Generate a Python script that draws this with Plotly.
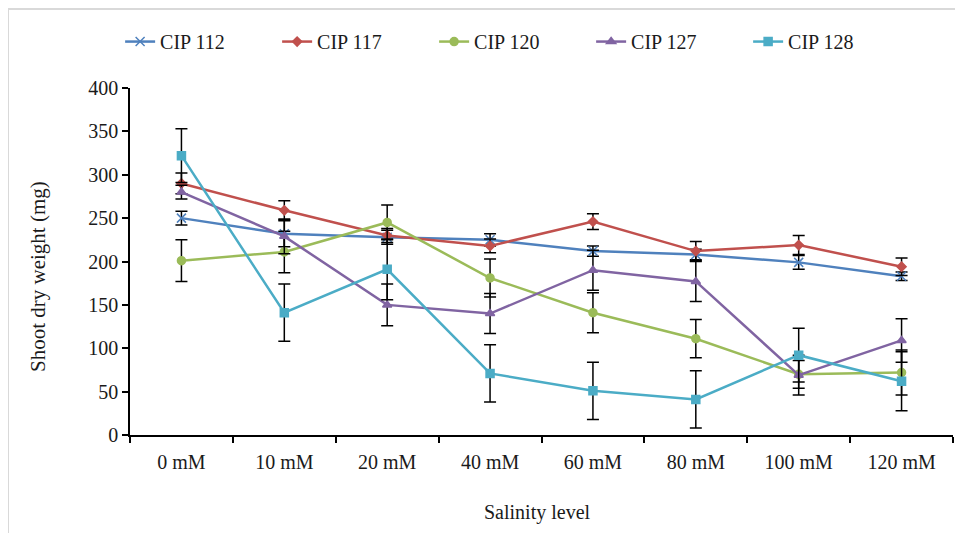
import plotly.graph_objects as go

categories = ["0 mM", "10 mM", "20 mM", "40 mM", "60 mM", "80 mM", "100 mM", "120 mM"]

cip112 = [250, 232, 228, 225, 212, 208, 199, 183]
cip112_err = [8, 15, 8, 7, 6, 6, 8, 5]
cip117 = [290, 259, 230, 218, 246, 212, 219, 194]
cip117_err = [12, 11, 8, 8, 9, 11, 11, 10]
cip120 = [201, 211, 245, 181, 141, 111, 70, 72]
cip120_err = [24, 24, 20, 22, 23, 22, 16, 26]
cip127 = [280, 229, 150, 140, 190, 177, 69, 109]
cip127_err = [8, 20, 24, 23, 23, 23, 23, 25]
cip128 = [322, 141, 191, 71, 51, 41, 92, 62]
cip128_err = [31, 33, 35, 33, 33, 33, 31, 34]

series = [
    ("CIP 112", cip112, cip112_err, "#4F81BD", "x-thin-open", 9),
    ("CIP 117", cip117, cip117_err, "#C0504D", "diamond", 7),
    ("CIP 120", cip120, cip120_err, "#9BBB59", "circle", 8),
    ("CIP 127", cip127, cip127_err, "#8064A2", "triangle-up", 8),
    ("CIP 128", cip128, cip128_err, "#4BACC6", "square", 8),
]

fig = go.Figure()
for name, vals, errs, color, sym, size in series:
    fig.add_trace(go.Scatter(
        x=categories, y=vals, name=name, mode="lines+markers",
        line=dict(color=color, width=2.5),
        marker=dict(symbol=sym, size=size, color=color,
                    line=dict(color=color, width=1.5)),
        error_y=dict(type="data", array=errs, visible=True,
                     color="black", thickness=1.5, width=6),
    ))

font_family = "Liberation Serif, Times New Roman, serif"
txt_color = "#1a1a1a"
# page has an 8px body margin: plot area spans page px 130..953 (x), 88..435 (y)
fig.update_layout(
    width=955, height=525,
    margin=dict(l=122, r=10, t=80, b=98),
    paper_bgcolor="white", plot_bgcolor="white",
    font=dict(family=font_family, size=20, color=txt_color),
    showlegend=True,
    legend=dict(orientation="h", x=-0.012, y=1.19, xanchor="left", yanchor="top",
                font=dict(family=font_family, size=20, color=txt_color),
                entrywidth=112, entrywidthmode="pixels",
                bgcolor="rgba(0,0,0,0)"),
    xaxis=dict(
        type="category", range=[-0.5, 7.5],
        showline=True, linecolor="black", linewidth=1.5,
        ticks="outside", ticklen=6, tickcolor="black", tickwidth=1.5,
        tickson="boundaries", showgrid=False, zeroline=False,
        ticklabelstandoff=8,
        tickfont=dict(family=font_family, size=20),
    ),
    yaxis=dict(
        range=[0, 400], tickvals=[0, 50, 100, 150, 200, 250, 300, 350, 400],
        showline=True, linecolor="black", linewidth=1.5,
        ticks="outside", ticklen=6, tickcolor="black", tickwidth=1.5,
        showgrid=False, zeroline=False,
        tickfont=dict(family=font_family, size=20),
    ),
    annotations=[
        dict(text="Salinity level", xref="paper", yref="paper",
             x=(537 - 130) / 823, y=(435 - 512) / 347,
             xanchor="center", yanchor="middle", showarrow=False,
             font=dict(family=font_family, size=20, color=txt_color)),
        dict(text="Shoot dry weight (mg)", xref="paper", yref="paper",
             x=(38 - 130) / 823, y=(435 - 277) / 347, textangle=-90,
             xanchor="center", yanchor="middle", showarrow=False,
             font=dict(family=font_family, size=21, color=txt_color)),
    ],
    shapes=[dict(type="rect", xref="paper", yref="paper",
                 x0=(8 - 130) / 823, x1=(975 - 130) / 823,
                 y0=(435 - 545) / 347, y1=(435 - 9) / 347,
                 line=dict(color="#D9D9D9", width=2), fillcolor="rgba(0,0,0,0)",
                 layer="below")],
)

fig.write_html("out.html")
